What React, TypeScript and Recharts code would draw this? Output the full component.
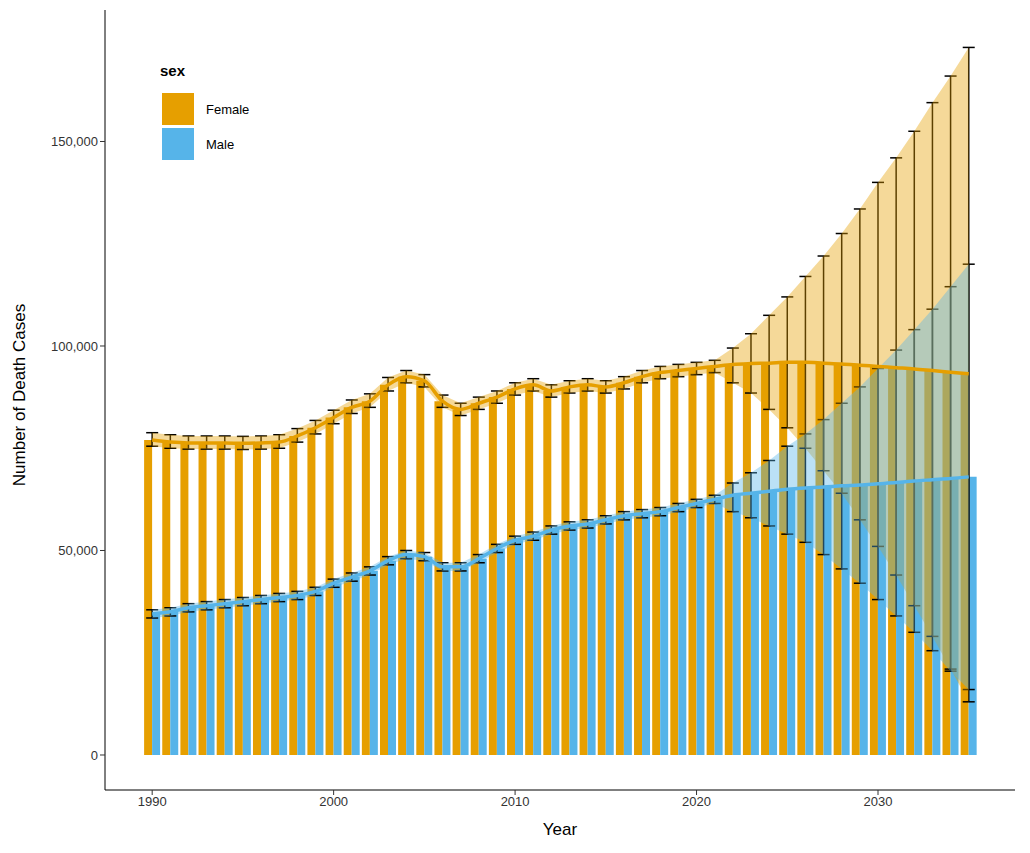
import React from "react";
import {
  Area,
  Bar,
  ComposedChart,
  ErrorBar,
  Line,
  XAxis,
  YAxis,
} from "recharts";

const years = Array.from({ length: 46 }, (_, i) => 1990 + i);

const femaleVal = [77000, 76500, 76300, 76300, 76300, 76200, 76300, 76500, 78000, 80000, 82500, 85000, 86500, 90500, 92500, 91500, 86500, 84500, 86000, 87500, 89500, 90500, 89000, 90000, 90500, 90000, 91000, 92500, 93500, 94000, 94500, 95000, 95500, 95700, 95800, 96000, 96000, 95800, 95600, 95300, 95000, 94700, 94400, 94000, 93600, 93200];
const femaleHi = [78800, 78300, 78000, 78000, 78000, 77900, 78000, 78300, 79800, 81800, 84300, 86800, 88300, 92300, 94000, 93000, 88000, 86000, 87500, 89000, 91000, 92000, 90500, 91500, 92000, 91500, 92500, 94000, 95000, 95500, 96000, 96500, 99500, 103000, 107500, 112000, 117000, 122000, 127500, 133500, 140000, 146000, 152500, 159500, 166000, 173000];
const femaleLo = [75500, 75000, 74800, 74800, 74800, 74700, 74800, 75000, 76500, 78500, 81000, 83500, 85000, 89000, 91000, 90000, 85000, 83000, 84500, 86000, 88000, 89000, 87500, 88500, 89000, 88500, 89500, 91000, 92000, 92500, 93000, 93500, 91000, 88500, 84500, 80000, 75000, 69500, 64000, 57500, 51000, 44000, 36500, 29000, 21000, 13000];

const maleVal = [34500, 35000, 36000, 36500, 37000, 37500, 38000, 38500, 39000, 40000, 42000, 43500, 45000, 47500, 49000, 48500, 46000, 46000, 48000, 50500, 52500, 53500, 55000, 56000, 56500, 57500, 58500, 59000, 59500, 60500, 61500, 62500, 63500, 64000, 64500, 65000, 65300, 65500, 65800, 66000, 66300, 66600, 67000, 67300, 67600, 68000];
const maleHi = [35500, 36000, 37000, 37500, 38000, 38500, 39000, 39500, 40000, 41000, 43000, 44500, 46000, 48500, 50000, 49500, 47000, 47000, 49000, 51500, 53500, 54500, 56000, 57000, 57500, 58500, 59500, 60000, 60500, 61500, 62500, 63500, 66500, 69000, 72000, 75500, 78500, 82000, 86000, 90000, 94500, 99000, 104000, 109000, 114500, 120000];
const maleLo = [33500, 34000, 35000, 35500, 36000, 36500, 37000, 37500, 38000, 39000, 41000, 42500, 44000, 46500, 48000, 47500, 45000, 45000, 47000, 49500, 51500, 52500, 54000, 55000, 55500, 56500, 57500, 58000, 58500, 59500, 60500, 61500, 59500, 58000, 56000, 54000, 52000, 49000, 45500, 42000, 38000, 34000, 30000, 25500, 20500, 16000];

const xTicks = [1990, 2000, 2010, 2020, 2030];
const yTicks = [0, 50000, 100000, 150000];

const ORANGE = "#E69F00";
const BLUE = "#56B4E9";

const data = years.map((year, i) => ({
  year,
  f: femaleVal[i],
  m: maleVal[i],
  fRange: [femaleLo[i], femaleHi[i]],
  mRange: [maleLo[i], maleHi[i]],
  fErr: [femaleVal[i] - femaleLo[i], femaleHi[i] - femaleVal[i]],
  mErr: [maleVal[i] - maleLo[i], maleHi[i] - maleVal[i]],
}));

const tick = { fill: "#333", fontSize: 13, fontFamily: "Liberation Sans" };
const axisLine = { stroke: "#000", strokeWidth: 1 };

export default function App() {
  return (
    <div style={{ position: "absolute", left: 0, top: 0, width: 1030, height: 853, background: "#fff", fontFamily: "Liberation Sans" }}>
      <ComposedChart width={1030} height={853} data={data} margin={{ top: 10, right: 15, bottom: 33, left: 0 }} barGap={0}>
        <XAxis
          dataKey="year"
          type="number"
          domain={[1987.4, 2037.55]}
          ticks={xTicks}
          tick={tick}
          axisLine={axisLine}
          tickLine={{ stroke: "#333" }}
          tickSize={5}
          height={30}
          allowDataOverflow
        />
        <YAxis
          type="number"
          domain={[-8560, 182150]}
          ticks={yTicks}
          tick={tick}
          tickFormatter={(v: number) => v.toLocaleString("en-US")}
          axisLine={axisLine}
          tickLine={{ stroke: "#333" }}
          tickSize={5}
          width={105}
          allowDataOverflow
        />
        <Bar dataKey="f" fill={ORANGE} barSize={8} isAnimationActive={false} />
        <Bar dataKey="m" fill={BLUE} barSize={8} isAnimationActive={false} />
        <Line dataKey="f" stroke="none" dot={false} isAnimationActive={false} legendType="none">
          <ErrorBar dataKey="fErr" width={6} stroke="#000" strokeWidth={1.5} direction="y" />
        </Line>
        <Line dataKey="m" stroke="none" dot={false} isAnimationActive={false} legendType="none">
          <ErrorBar dataKey="mErr" width={6} stroke="#000" strokeWidth={1.5} direction="y" />
        </Line>
        <Area dataKey="fRange" type="linear" fill={ORANGE} fillOpacity={0.4} stroke="none" isAnimationActive={false} zIndex={450} />
        <Area dataKey="mRange" type="linear" fill={BLUE} fillOpacity={0.4} stroke="none" isAnimationActive={false} zIndex={450} />
        <Line dataKey="f" type="monotone" stroke={ORANGE} strokeWidth={3.5} dot={false} isAnimationActive={false} zIndex={500} />
        <Line dataKey="m" type="monotone" stroke={BLUE} strokeWidth={3.5} dot={false} isAnimationActive={false} zIndex={500} />
      </ComposedChart>
      <div style={{ position: "absolute", left: 10, top: 0, width: 20, height: 790, display: "flex", alignItems: "center", justifyContent: "center" }}>
        <div style={{ transform: "rotate(-90deg)", whiteSpace: "nowrap", fontSize: 17, color: "#000" }}>Number of Death Cases</div>
      </div>
      <div style={{ position: "absolute", left: 105, width: 910, top: 820, textAlign: "center", fontSize: 17, color: "#000" }}>Year</div>
      <div style={{ position: "absolute", left: 160, top: 62, fontSize: 15, fontWeight: "bold", color: "#000" }}>sex</div>
      {[
        { label: "Female", color: ORANGE, top: 93 },
        { label: "Male", color: BLUE, top: 128 },
      ].map((it) => (
        <div key={it.label} style={{ position: "absolute", left: 162, top: it.top, display: "flex", alignItems: "center" }}>
          <div style={{ width: 32, height: 32, background: it.color }} />
          <span style={{ marginLeft: 12, fontSize: 13, color: "#000" }}>{it.label}</span>
        </div>
      ))}
    </div>
  );
}
